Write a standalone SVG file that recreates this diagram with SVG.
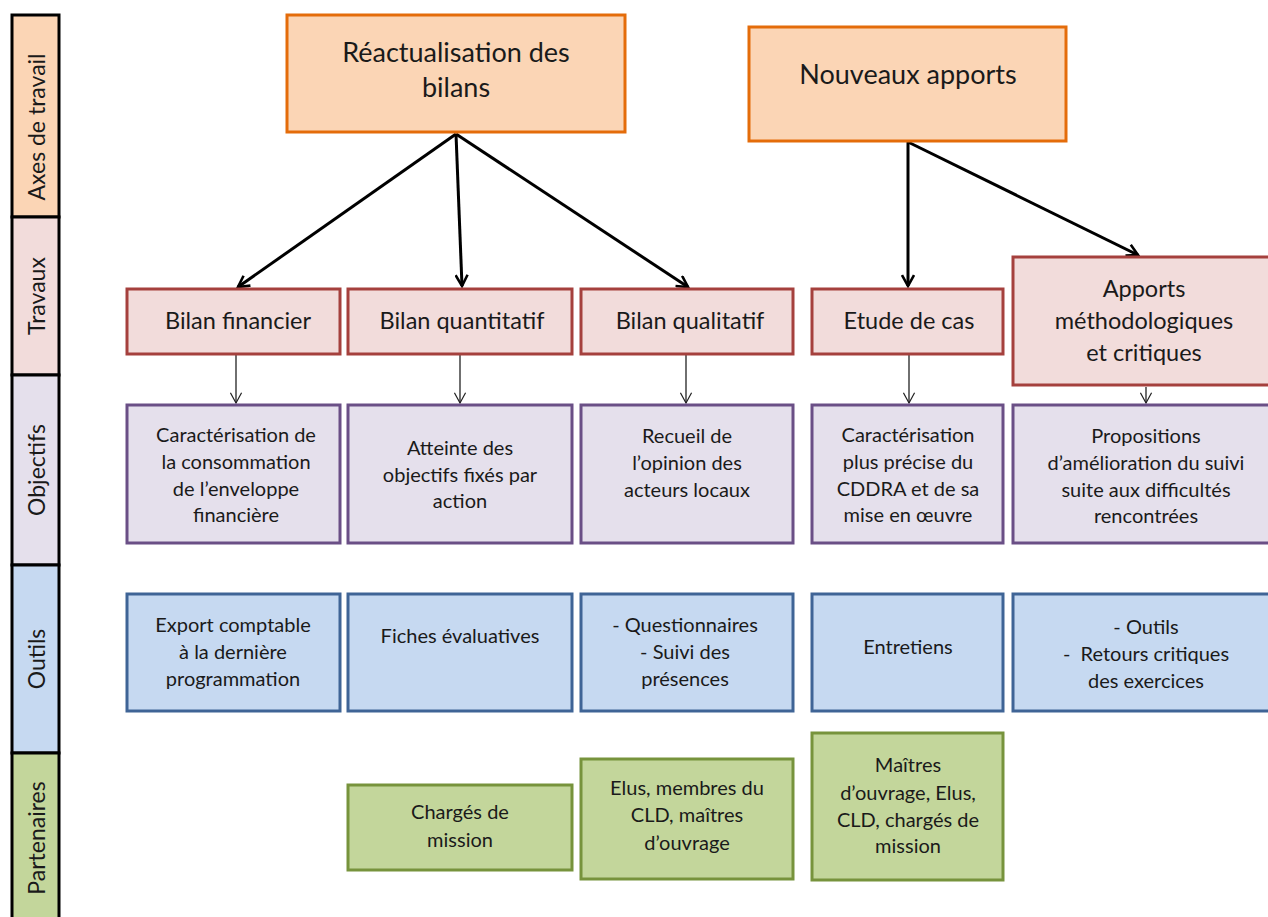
<svg xmlns="http://www.w3.org/2000/svg" width="1268" height="917" viewBox="0 0 1268 917">
  <defs>
    <marker id="headBold" viewBox="0 0 14 14" refX="12" refY="7" markerWidth="14" markerHeight="14" markerUnits="userSpaceOnUse" orient="auto">
      <path d="M1,1 L12,7 L1,13" fill="none" stroke="#000" stroke-width="2.6"/>
    </marker>
    <marker id="headThin" viewBox="0 0 14 14" refX="12" refY="7" markerWidth="13" markerHeight="13" markerUnits="userSpaceOnUse" orient="auto">
      <path d="M1,1 L12,7 L1,13" fill="none" stroke="#222" stroke-width="1.3"/>
    </marker>
  </defs>
  <style>
    text { font-family: Lato, "Open Sans", "Liberation Sans", sans-serif; fill: #1a1a1a; text-anchor: middle; }
    .band { stroke: #000; stroke-width: 3; }
    .axe { fill: #FBD5B5; stroke: #E46C0A; stroke-width: 3; }
    .trav { fill: #F2DCDB; stroke: #A5403D; stroke-width: 3; }
    .obj { fill: #E5E0EC; stroke: #6A4F86; stroke-width: 3; }
    .out { fill: #C6D9F1; stroke: #3F6496; stroke-width: 3; }
    .part { fill: #C3D69B; stroke: #77933C; stroke-width: 3; }
    .t-axe { font-size: 27px; }
    .t-trav { font-size: 23.5px; }
    .t-box { font-size: 20px; }
    .t-band { font-size: 23px; }
    .bold { stroke: #000; stroke-width: 3; fill: none; marker-end: url(#headBold); }
    .thin { stroke: #222; stroke-width: 1.3; fill: none; marker-end: url(#headThin); }
  </style>

  <rect width="1268" height="917" fill="#fff"/>

  <!-- Row bands on the left -->
  <g id="bands">
    <rect class="band" x="12" y="15" width="47" height="202" fill="#FBD5B5"/>
    <rect class="band" x="12" y="217" width="47" height="158" fill="#F2DCDB"/>
    <rect class="band" x="12" y="375" width="47" height="190" fill="#E5E0EC"/>
    <rect class="band" x="12" y="565" width="47" height="188" fill="#C6D9F1"/>
    <rect class="band" x="12" y="753" width="47" height="180" fill="#C3D69B"/>
    <text class="t-band" transform="translate(45,127) rotate(-90)">Axes de travail</text>
    <text class="t-band" transform="translate(45,296) rotate(-90)">Travaux</text>
    <text class="t-band" transform="translate(45,470) rotate(-90)">Objectifs</text>
    <text class="t-band" transform="translate(45,659) rotate(-90)">Outils</text>
    <text class="t-band" transform="translate(45,838) rotate(-90)">Partenaires</text>
  </g>

  <!-- Connectors -->
  <g id="connectors">
    <line class="bold" x1="456" y1="134" x2="238" y2="287"/>
    <line class="bold" x1="456" y1="134" x2="462" y2="286"/>
    <line class="bold" x1="456" y1="134" x2="688" y2="287"/>
    <line class="bold" x1="908" y1="142" x2="908" y2="286"/>
    <line class="bold" x1="908" y1="142" x2="1138" y2="255"/>
    <line class="thin" x1="236" y1="355" x2="236" y2="403"/>
    <line class="thin" x1="460" y1="355" x2="460" y2="403"/>
    <line class="thin" x1="686" y1="355" x2="686" y2="403"/>
    <line class="thin" x1="909" y1="355" x2="909" y2="403"/>
    <line class="thin" x1="1146" y1="387" x2="1146" y2="403"/>
  </g>

  <!-- Axes de travail -->
  <g id="axe-bilans">
    <rect class="axe" x="287" y="15" width="338" height="117"/>
    <text class="t-axe" x="456" y="62">Réactualisation des</text>
    <text class="t-axe" x="456" y="97">bilans</text>
  </g>
  <g id="axe-apports">
    <rect class="axe" x="749" y="27" width="317" height="114"/>
    <text class="t-axe" x="908" y="84">Nouveaux apports</text>
  </g>

  <!-- Travaux -->
  <g id="trav-financier">
    <rect class="trav" x="127" y="289" width="213" height="65"/>
    <text class="t-trav" x="238" y="329">Bilan financier</text>
  </g>
  <g id="trav-quantitatif">
    <rect class="trav" x="348" y="289" width="224" height="65"/>
    <text class="t-trav" x="462" y="329">Bilan quantitatif</text>
  </g>
  <g id="trav-qualitatif">
    <rect class="trav" x="581" y="289" width="212" height="65"/>
    <text class="t-trav" x="690" y="329">Bilan qualitatif</text>
  </g>
  <g id="trav-etude">
    <rect class="trav" x="812" y="289" width="191" height="65"/>
    <text class="t-trav" x="909" y="329">Etude de cas</text>
  </g>
  <g id="trav-apports">
    <rect class="trav" x="1013" y="257" width="260" height="128"/>
    <text class="t-trav" x="1144" y="297">Apports</text>
    <text class="t-trav" x="1144" y="329">méthodologiques</text>
    <text class="t-trav" x="1144" y="361">et critiques</text>
  </g>

  <!-- Objectifs -->
  <g id="obj-financier">
    <rect class="obj" x="127" y="405" width="213" height="138"/>
    <text class="t-box" x="236" y="442">Caractérisation de</text>
    <text class="t-box" x="236" y="469">la consommation</text>
    <text class="t-box" x="236" y="496">de l’enveloppe</text>
    <text class="t-box" x="236" y="522">financière</text>
  </g>
  <g id="obj-quantitatif">
    <rect class="obj" x="348" y="405" width="224" height="138"/>
    <text class="t-box" x="460" y="455">Atteinte des</text>
    <text class="t-box" x="460" y="482">objectifs fixés par</text>
    <text class="t-box" x="460" y="508">action</text>
  </g>
  <g id="obj-qualitatif">
    <rect class="obj" x="581" y="405" width="212" height="138"/>
    <text class="t-box" x="687" y="443">Recueil de</text>
    <text class="t-box" x="687" y="470">l’opinion des</text>
    <text class="t-box" x="687" y="497">acteurs locaux</text>
  </g>
  <g id="obj-etude">
    <rect class="obj" x="812" y="405" width="191" height="138"/>
    <text class="t-box" x="908" y="442">Caractérisation</text>
    <text class="t-box" x="908" y="469">plus précise du</text>
    <text class="t-box" x="908" y="496">CDDRA et de sa</text>
    <text class="t-box" x="908" y="522">mise en œuvre</text>
  </g>
  <g id="obj-apports">
    <rect class="obj" x="1013" y="405" width="260" height="138"/>
    <text class="t-box" x="1146" y="443">Propositions</text>
    <text class="t-box" x="1146" y="470">d’amélioration du suivi</text>
    <text class="t-box" x="1146" y="497">suite aux difficultés</text>
    <text class="t-box" x="1146" y="523">rencontrées</text>
  </g>

  <!-- Outils -->
  <g id="out-financier">
    <rect class="out" x="127" y="594" width="213" height="117"/>
    <text class="t-box" x="233" y="632">Export comptable</text>
    <text class="t-box" x="233" y="659">à la dernière</text>
    <text class="t-box" x="233" y="686">programmation</text>
  </g>
  <g id="out-quantitatif">
    <rect class="out" x="348" y="594" width="224" height="117"/>
    <text class="t-box" x="460" y="643">Fiches évaluatives</text>
  </g>
  <g id="out-qualitatif">
    <rect class="out" x="581" y="594" width="212" height="117"/>
    <text class="t-box" x="685" y="632">- Questionnaires</text>
    <text class="t-box" x="685" y="659">- Suivi des</text>
    <text class="t-box" x="685" y="686">présences</text>
  </g>
  <g id="out-etude">
    <rect class="out" x="812" y="594" width="191" height="117"/>
    <text class="t-box" x="908" y="654">Entretiens</text>
  </g>
  <g id="out-apports">
    <rect class="out" x="1013" y="594" width="260" height="117"/>
    <text class="t-box" x="1146" y="634">- Outils</text>
    <text class="t-box" x="1146" y="661" xml:space="preserve">-  Retours critiques</text>
    <text class="t-box" x="1146" y="688">des exercices</text>
  </g>

  <!-- Partenaires -->
  <g id="part-quantitatif">
    <rect class="part" x="348" y="785" width="224" height="85"/>
    <text class="t-box" x="460" y="819">Chargés de</text>
    <text class="t-box" x="460" y="847">mission</text>
  </g>
  <g id="part-qualitatif">
    <rect class="part" x="581" y="759" width="212" height="120"/>
    <text class="t-box" x="687" y="795">Elus, membres du</text>
    <text class="t-box" x="687" y="822">CLD, maîtres</text>
    <text class="t-box" x="687" y="850">d’ouvrage</text>
  </g>
  <g id="part-etude">
    <rect class="part" x="812" y="733" width="191" height="147"/>
    <text class="t-box" x="908" y="772">Maîtres</text>
    <text class="t-box" x="908" y="800">d’ouvrage, Elus,</text>
    <text class="t-box" x="908" y="827">CLD, chargés de</text>
    <text class="t-box" x="908" y="853">mission</text>
  </g>
</svg>
